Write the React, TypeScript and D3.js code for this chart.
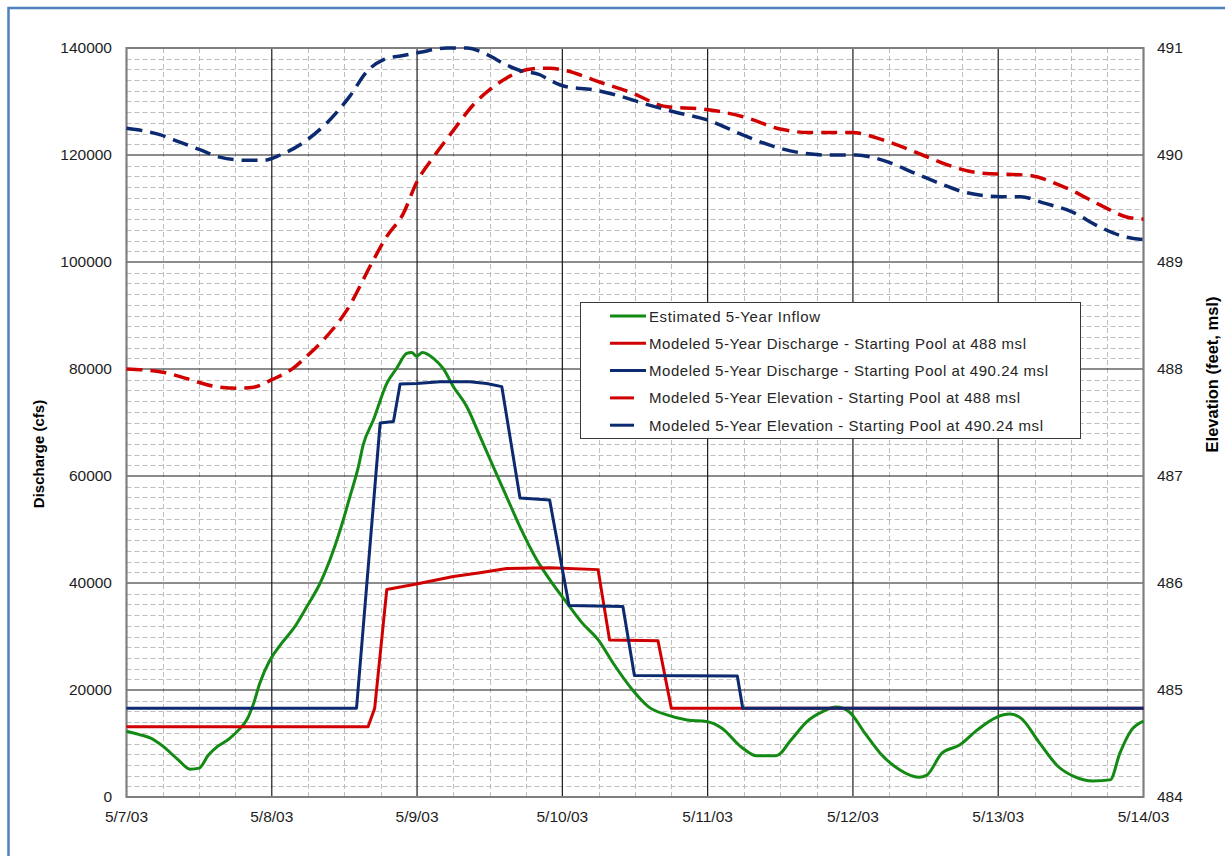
import React from "react";
import * as d3 from "d3";

// hours since 5/7/03 00:00
const dayLabels = ["5/7/03", "5/8/03", "5/9/03", "5/10/03", "5/11/03", "5/12/03", "5/13/03", "5/14/03"];
const cfsTicks = [0, 20000, 40000, 60000, 80000, 100000, 120000, 140000];
const elevTicks = [484, 485, 486, 487, 488, 489, 490, 491];

const inflow: [number, number][] = [
  [0, 12300], [2, 11700], [4, 11000], [6, 9500], [8.5, 7000], [10.5, 5200], [12, 5400], [13.5, 7800],
  [15, 9400], [17, 10900], [18.5, 12500], [20, 14700], [21, 17500], [22, 21200], [23.7, 25600],
  [25.4, 28400], [27.6, 31500], [29.8, 35600], [32, 40000], [33.6, 44300], [35.3, 49900], [36.9, 56100],
  [38.3, 61700], [39.1, 65800], [40.8, 70500], [43, 77300], [44.6, 80100], [46.3, 82900], [47.1, 83100],
  [47.9, 82400], [48.9, 83100], [50.7, 82000], [52.3, 80100], [54, 76700], [56.2, 73000], [58.4, 67400],
  [60.6, 61700], [62.8, 56100], [65, 50500], [67.8, 44300], [70, 40500], [72.8, 36200], [75.3, 32500],
  [77.9, 29400], [80.4, 25000], [83.6, 20000], [86.2, 16900], [89.4, 15300], [92.6, 14400], [95.8, 14100],
  [98.3, 12900], [101.5, 9400], [104.1, 7700], [107.3, 7700], [109.8, 10700], [112.4, 14100], [114.9, 15900],
  [117.2, 16800], [119.4, 15900], [122, 11900], [124.5, 8200], [127.7, 5100], [130.9, 3700], [132.2, 4100],
  [134.7, 8200], [137.6, 9700], [140.5, 12500], [143.7, 14900], [145.9, 15500], [147.8, 14700],
  [150.7, 10300], [153.9, 5700], [156.4, 3900], [159.7, 3000], [162.5, 3200], [164.1, 8200], [166, 12500],
  [168, 14200],
];

const discharge488: [number, number][] = [
  [0, 13150], [39.9, 13150], [41, 16600], [43, 38800], [47.9, 39800], [54, 41200], [58.4, 41900],
  [62.8, 42700], [70, 42850], [77.9, 42500], [79.8, 29350], [87.8, 29200], [90, 16600], [168, 16600],
];

const discharge490: [number, number][] = [
  [0, 16600], [38, 16600], [41.9, 69900], [44.1, 70200], [45.2, 77200], [47.9, 77300], [51.8, 77600],
  [56.7, 77600], [59.5, 77300], [62, 76700], [65, 55900], [69.9, 55500], [73.1, 35800], [82, 35600],
  [83.9, 22700], [100.9, 22600], [101.8, 16600], [168, 16600],
];

const elev488: [number, number][] = [
  [0, 488.0], [6, 487.97], [10, 487.91], [14.3, 487.84], [18.2, 487.82], [21, 487.83], [24, 487.9],
  [27.6, 488.01], [29.8, 488.12], [32.5, 488.27], [36.4, 488.55], [40.8, 489.02], [43, 489.24],
  [45.7, 489.45], [47.9, 489.74], [50.7, 489.98], [54, 490.23], [57.3, 490.47], [60, 490.61],
  [62.8, 490.72], [65, 490.78], [68.3, 490.81], [70, 490.81], [72.5, 490.79], [77.7, 490.69],
  [83.5, 490.58], [89.3, 490.45], [95.2, 490.43], [101.7, 490.36], [108.2, 490.24], [112.7, 490.21],
  [119.8, 490.21], [125, 490.14], [131.5, 490.0], [136, 489.9], [141.2, 489.83], [149, 489.81],
  [154.9, 489.7], [161.3, 489.52], [165.2, 489.42], [168, 489.4],
];

const elev490: [number, number][] = [
  [0, 490.25], [5.5, 490.19], [8.8, 490.12], [12.1, 490.05], [15.4, 489.98], [19.9, 489.95],
  [22.6, 489.95], [25.4, 490.0], [29.8, 490.14], [33.1, 490.3], [36.9, 490.55], [39.7, 490.78],
  [42.4, 490.89], [45.7, 490.93], [48.5, 490.96], [52.9, 491.0], [56.2, 491.0], [59.5, 490.94],
  [62.8, 490.84], [65, 490.79], [68.3, 490.75], [69.9, 490.7], [72.5, 490.64], [77, 490.61],
  [80.9, 490.56], [85.5, 490.48], [90.7, 490.4], [95.8, 490.33], [101.7, 490.19], [106.9, 490.08],
  [111.4, 490.02], [115.9, 490.0], [120.5, 490.0], [125, 489.95], [130.2, 489.83], [134.1, 489.74],
  [138.6, 489.65], [144.5, 489.61], [147.7, 489.61], [151.6, 489.55], [156.1, 489.47], [160.7, 489.33],
  [164.6, 489.24], [168, 489.21],
];

const legendItems = [
  { label: "Estimated 5-Year Inflow", color: "#138a13", dashed: false, len: 171 },
  { label: "Modeled 5-Year Discharge - Starting Pool at 488 msl", color: "#d00000", dashed: false, len: 377 },
  { label: "Modeled 5-Year Discharge - Starting Pool at 490.24 msl", color: "#0c2a70", dashed: false, len: 399 },
  { label: "Modeled 5-Year Elevation - Starting Pool at 488 msl", color: "#d00000", dashed: true, len: 371 },
  { label: "Modeled 5-Year Elevation - Starting Pool at 490.24 msl", color: "#0c2a70", dashed: true, len: 394 },
];

const W = 1225, H = 856;
const m = { l: 126.5, r: 1143.5, t: 48, b: 797 };
const FONT = "'Liberation Sans', Arial, sans-serif";

export default function App() {
  const x = d3.scaleLinear().domain([0, 168]).range([m.l, m.r]);
  const y = d3.scaleLinear().domain([0, 140000]).range([m.b, m.t]);
  const y2 = d3.scaleLinear().domain([484, 491]).range([m.b, m.t]);

  const lineQ = d3.line<[number, number]>().x((d) => x(d[0])).y((d) => y(d[1]));
  const smoothQ = d3.line<[number, number]>().x((d) => x(d[0])).y((d) => y(d[1])).curve(d3.curveMonotoneX);
  const smoothE = d3.line<[number, number]>().x((d) => x(d[0])).y((d) => y2(d[1])).curve(d3.curveMonotoneX);

  const minorX = d3.range(0, 169, 6).filter((h) => h % 24 !== 0);
  const minorY = d3.range(0, 140001, 2000).filter((v) => v % 20000 !== 0);

  return (
    <svg width={W} height={H} style={{ position: "fixed", left: 0, top: 0, background: "#fff" }} fontFamily={FONT}>
      <rect x={8.5} y={8} width={1400} height={1000} fill="#fff" stroke="#4f81bd" strokeWidth={2.5} />

      {/* minor grid */}
      <g stroke="#bdbdbd" strokeWidth={1} strokeDasharray="5,3">
        {minorY.map((v) => (
          <line key={"my" + v} x1={m.l} x2={m.r} y1={Math.round(y(v)) + 0.5} y2={Math.round(y(v)) + 0.5} />
        ))}
        {minorX.map((h) => (
          <line key={"mx" + h} x1={Math.round(x(h)) + 0.5} x2={Math.round(x(h)) + 0.5} y1={m.t} y2={m.b} />
        ))}
      </g>
      {/* major grid */}
      <g stroke="#1a1a1a" strokeWidth={1.2}>
        {cfsTicks.map((v) => (
          <line key={"gy" + v} x1={m.l} x2={m.r} y1={y(v)} y2={y(v)} />
        ))}
        {dayLabels.map((_, i) => (
          <line key={"gx" + i} x1={x(i * 24)} x2={x(i * 24)} y1={m.t} y2={m.b} />
        ))}
      </g>
      <rect x={m.l} y={m.t} width={m.r - m.l} height={m.b - m.t} fill="none" stroke="#7f7f7f" strokeWidth={2} />

      {/* series */}
      <g fill="none" strokeWidth={3} strokeLinejoin="round">
        <path d={smoothQ(inflow) ?? ""} stroke="#138a13" />
        <path d={lineQ(discharge488) ?? ""} stroke="#d00000" />
        <path d={lineQ(discharge490) ?? ""} stroke="#0c2a70" />
        <path d={smoothE(elev488) ?? ""} stroke="#d00000" strokeWidth={3.5} strokeDasharray="16,8" />
        <path d={smoothE(elev490) ?? ""} stroke="#0c2a70" strokeWidth={3.5} strokeDasharray="16,8" />
      </g>

      {/* axes labels */}
      <g fontSize={15.5} fill="#1e1e1e">
        {cfsTicks.map((v) => (
          <text key={"ly" + v} x={112} y={y(v)} dy="0.35em" textAnchor="end">{v}</text>
        ))}
        {elevTicks.map((v) => (
          <text key={"ry" + v} x={1157} y={y2(v)} dy="0.35em">{v}</text>
        ))}
        {dayLabels.map((s, i) => (
          <text key={"lx" + i} x={x(i * 24)} y={822} textAnchor="middle">{s}</text>
        ))}
      </g>
      <text transform="translate(44,454) rotate(-90)" textAnchor="middle" fontSize={15} fontWeight="bold" fill="#000">
        Discharge (cfs)
      </text>
      <text transform="translate(1218,374.5) rotate(-90)" textAnchor="middle" fontSize={16.5} fontWeight="bold" fill="#000">
        Elevation (feet, msl)
      </text>

      {/* legend */}
      <rect x={580.5} y={302.5} width={500} height={136} fill="#fff" stroke="#3a3a3a" strokeWidth={1} />
      {legendItems.map((d, i) => {
        const ly = 316 + i * 27.3;
        return (
          <g key={d.label}>
            <line x1={610} x2={d.dashed ? 634 : 646} y1={ly} y2={ly} stroke={d.color} strokeWidth={3} />
            <text x={649} y={ly + 5.5} fontSize={15} fill="#262626" textLength={d.len} lengthAdjust="spacing">
              {d.label}
            </text>
          </g>
        );
      })}
    </svg>
  );
}
